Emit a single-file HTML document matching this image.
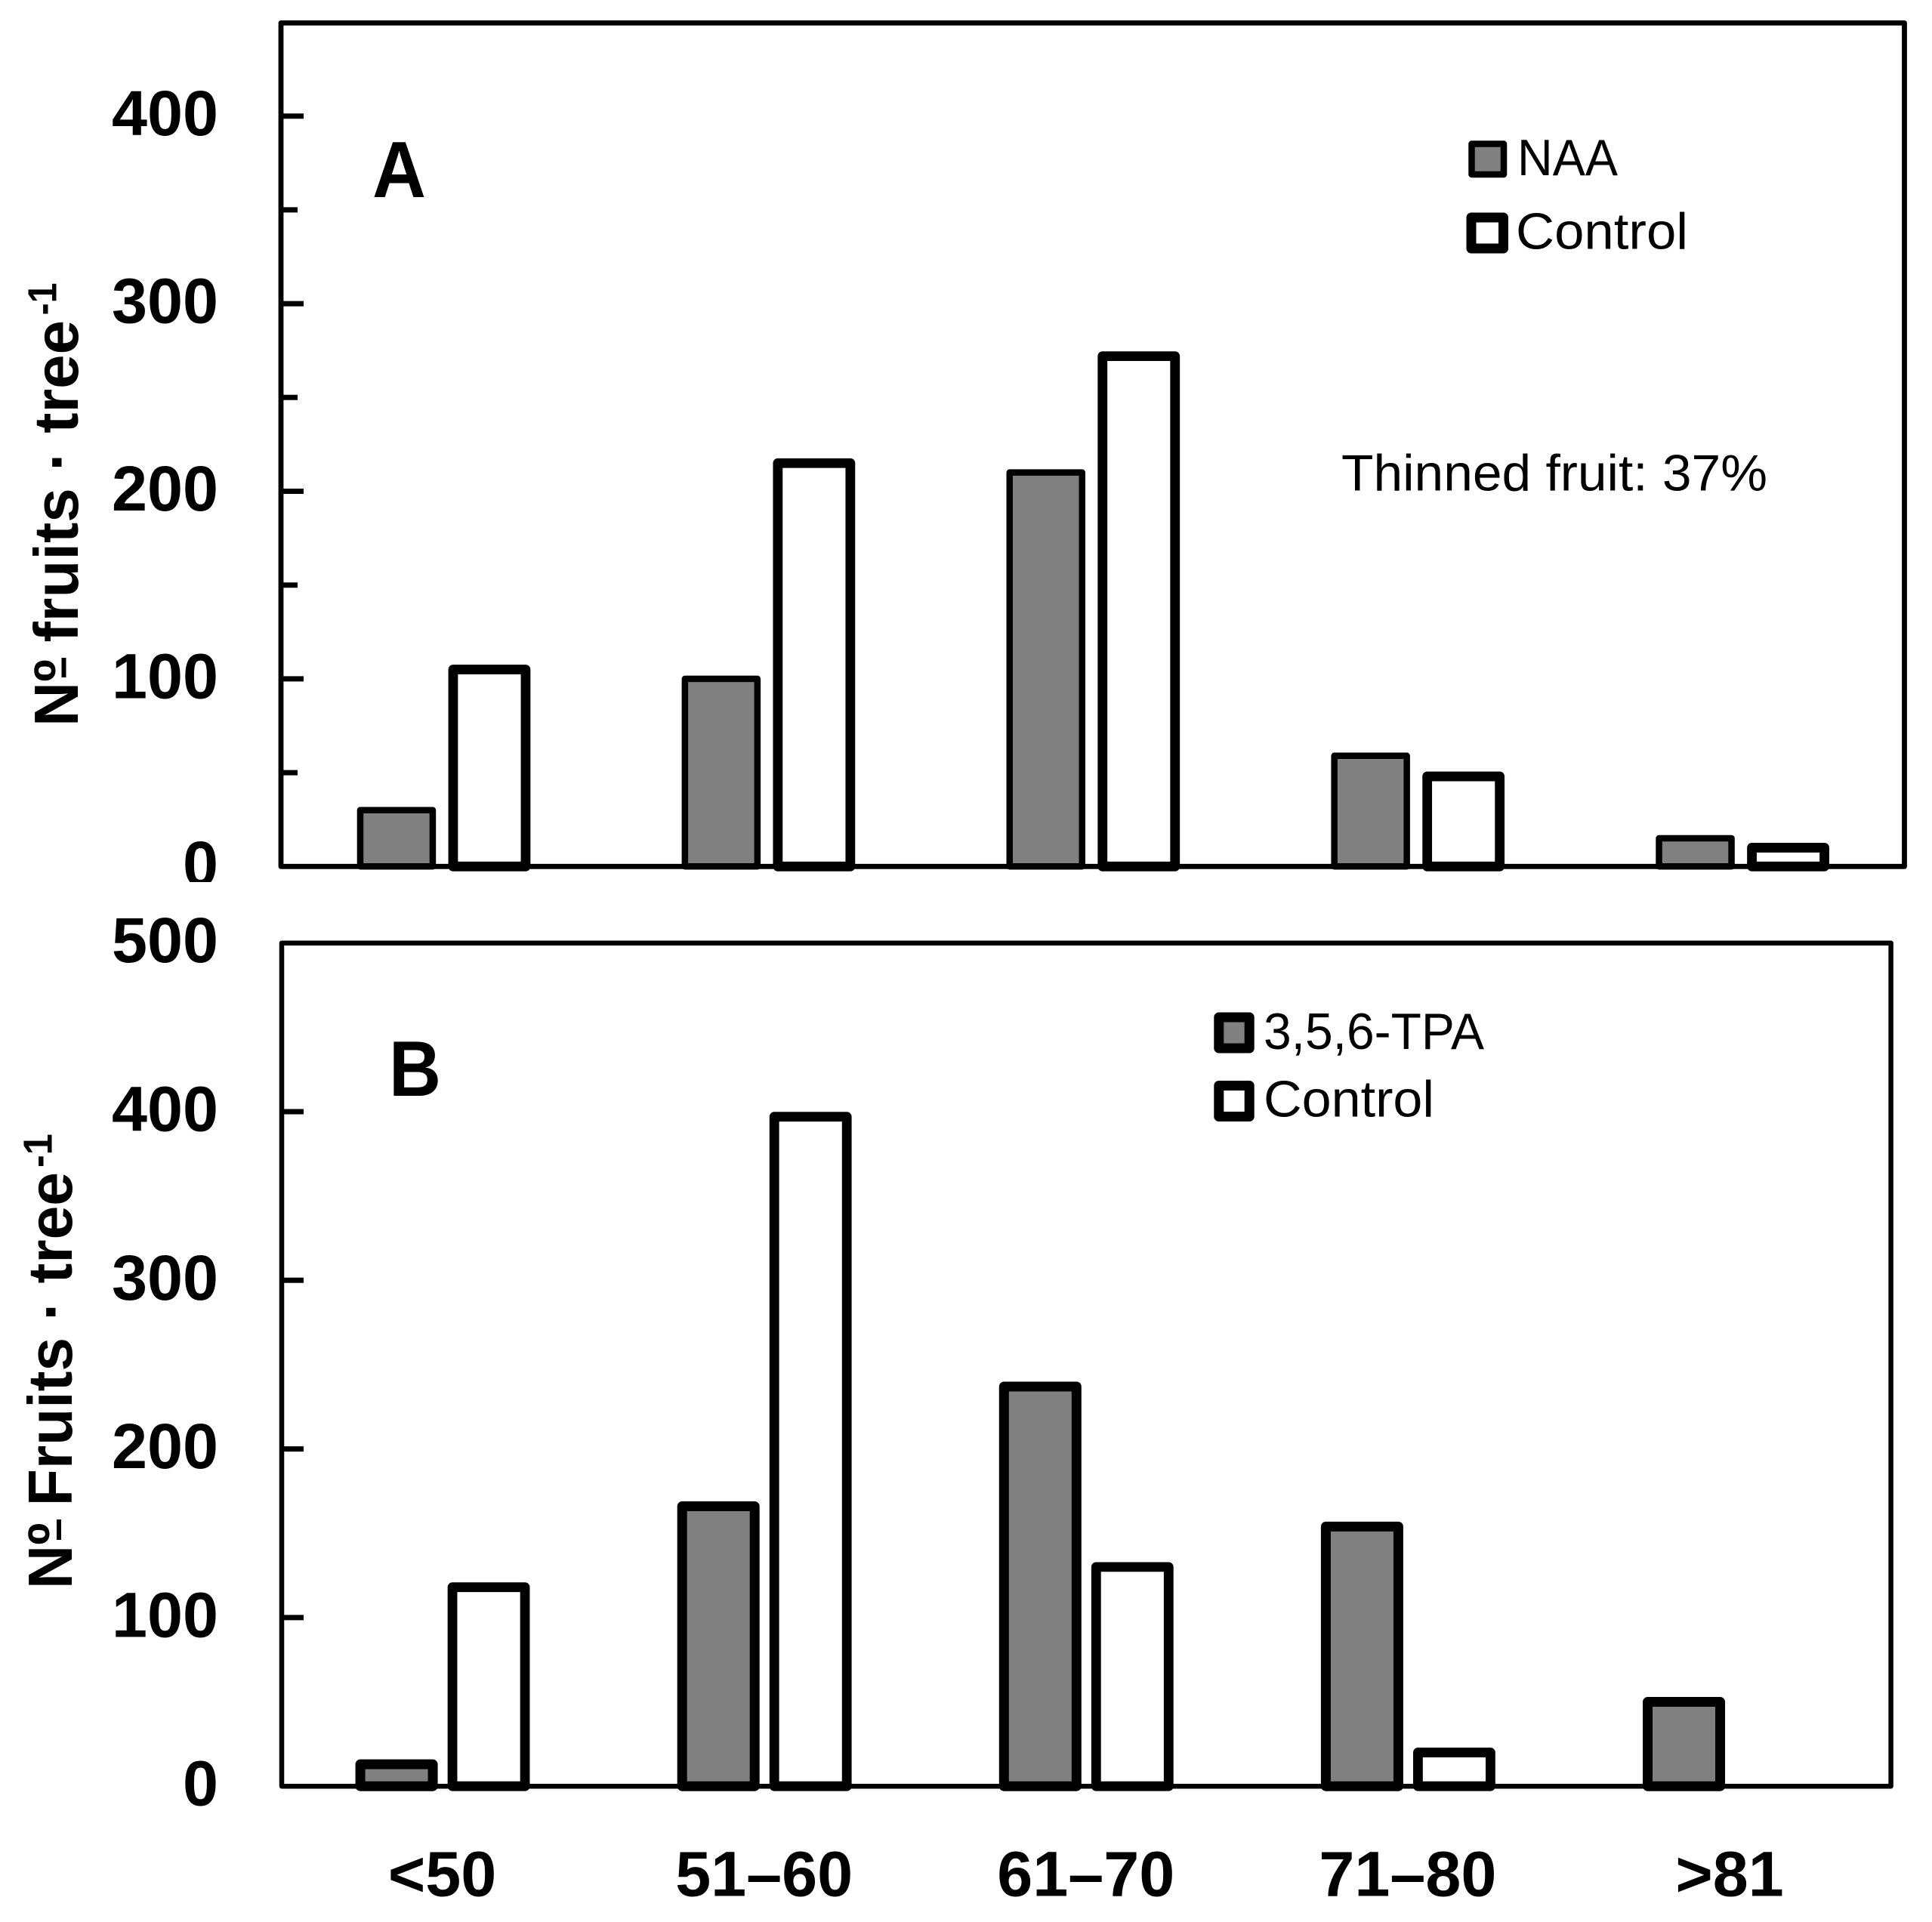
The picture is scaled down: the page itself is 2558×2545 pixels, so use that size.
<!DOCTYPE html>
<html lang="en">
<head>
<meta charset="utf-8">
<title>Fruit size distribution</title>
<style>
html,body{margin:0;padding:0;background:#fff;}
svg{display:block;}
text{font-family:"Liberation Sans",sans-serif;fill:#000;}
.b{font-weight:700;}
</style>
</head>
<body>
<svg id="chart" xmlns="http://www.w3.org/2000/svg" width="2558" height="2545" viewBox="0 0 2558 2545">
  <defs>
    <clipPath id="zero-clip"><rect x="200" y="1100" width="120" height="68"/></clipPath>
  </defs>
  <rect x="0" y="0" width="2558" height="2545" fill="#fff"/>
  <rect x="372" y="30.4" width="2149.5" height="1116.9" fill="none" stroke="#000" stroke-width="6.8" stroke-linejoin="round"/>
  <rect x="373" y="1248.7" width="2130.6" height="1116.5" fill="none" stroke="#000" stroke-width="6.5" stroke-linejoin="round"/>
  <g id="marks-a"></g>
  <g id="marks-b"></g>

  <text class="b" x="493" y="261" font-size="106" textLength="71" lengthAdjust="spacingAndGlyphs">A</text>
  <text class="b" x="515" y="1451" font-size="104" textLength="69" lengthAdjust="spacingAndGlyphs">B</text>

  <rect x="1948.5" y="190.5" width="42.5" height="40.5" fill="#808080" stroke="#000" stroke-width="8.5" stroke-linejoin="round"/>
  <text x="2009" y="232" font-size="68" textLength="133" lengthAdjust="spacingAndGlyphs">NAA</text>
  <rect x="1948" y="288" width="42.5" height="41" fill="#fff" stroke="#000" stroke-width="13" stroke-linejoin="round"/>
  <text x="2007" y="329.5" font-size="68" textLength="228" lengthAdjust="spacingAndGlyphs">Control</text>
  <text x="1776" y="649.5" font-size="68" textLength="564" lengthAdjust="spacingAndGlyphs">Thinned fruit: 37%</text>

  <rect x="1613.8" y="1347" width="40.4" height="41" fill="#808080" stroke="#000" stroke-width="13" stroke-linejoin="round"/>
  <text x="1673" y="1389" font-size="68" textLength="292" lengthAdjust="spacingAndGlyphs">3,5,6-TPA</text>
  <rect x="1613.8" y="1437.5" width="40.4" height="41" fill="#fff" stroke="#000" stroke-width="13" stroke-linejoin="round"/>
  <text x="1673" y="1478.3" font-size="68" textLength="226" lengthAdjust="spacingAndGlyphs">Control</text>

  <g>
    <text class="b" transform="translate(103 962) rotate(-90)" font-size="83" textLength="538" lengthAdjust="spacingAndGlyphs">Nº fruits · tree</text>
    <text class="b" transform="translate(74.6 417.4) rotate(-90)" font-size="54" textLength="43" lengthAdjust="spacingAndGlyphs">-1</text>
    <rect x="81.5" y="871" width="6" height="26" fill="#000"/>
  </g>
  <g>
    <text class="b" transform="translate(95 2104) rotate(-90)" font-size="83" textLength="552" lengthAdjust="spacingAndGlyphs">Nº Fruits · tree</text>
    <text class="b" transform="translate(68.3 1546) rotate(-90)" font-size="54" textLength="44.7" lengthAdjust="spacingAndGlyphs">-1</text>
    <rect x="75" y="2012" width="6" height="27" fill="#000"/>
  </g>
</svg>
<script>
const categories = ['<50', '51–60', '61–70', '71–80', '>81'];
const naaValues = [30, 100, 210, 59, 15];
const controlAValues = [105, 215, 272, 48, 10];
const tpaValues = [13, 166, 237, 154, 50];
const controlBValues = [118, 397, 130, 20, null];
const yMajorTicksA = [0, 100, 200, 300, 400];
const yMinorTicksA = [50, 150, 250, 350];
const yMajorTicksB = [0, 100, 200, 300, 400, 500];

const SVG_NS = 'http://www.w3.org/2000/svg';
const yA = function (v) { return 1147.3 - v * 2.484; };
const yB = function (v) { return 2365.2 - v * 2.233; };
const bandA = function (i) { return 372 + 429.9 * (i + 0.5); };
const bandB = function (i) { return 373 + 426.12 * (i + 0.5); };
const groupA = document.getElementById('marks-a');
const groupB = document.getElementById('marks-b');
const chartRoot = document.getElementById('chart');

function drawBar(group, band, offset, yScale, value, fill, strokeW, name) {
  if (value === null) return;
  const r = document.createElementNS(SVG_NS, 'rect');
  
  
  r.setAttribute('x', band + offset - 48);
  r.setAttribute('y', yScale(value));
  r.setAttribute('width', 96);
  r.setAttribute('height', yScale(0) - yScale(value));
  r.setAttribute('fill', fill);
  r.setAttribute('stroke', '#000');
  r.setAttribute('stroke-width', strokeW);
  r.setAttribute('stroke-linejoin', 'round');
  group.appendChild(r);
}

function drawTick(group, x0, len, y, name) {
  const l = document.createElementNS(SVG_NS, 'line');
  
  
  l.setAttribute('x1', x0);
  l.setAttribute('x2', x0 + len);
  l.setAttribute('y1', y);
  l.setAttribute('y2', y);
  l.setAttribute('stroke', '#000');
  l.setAttribute('stroke-width', 7);
  group.appendChild(l);
}

function drawLabel(group, x, y, anchor, content, name) {
  const t = document.createElementNS(SVG_NS, 'text');
  
  
  t.setAttribute('class', 'b');
  t.setAttribute('x', x);
  t.setAttribute('y', y);
  t.setAttribute('font-size', 84.5);
  t.setAttribute('text-anchor', anchor);
  t.textContent = content;
  group.appendChild(t);
  return t;
}

yMajorTicksA.forEach(function (v) {
  if (v > 0) drawTick(groupA, 372, 30, yA(v), 'y-tick-a-' + v);
  const t = drawLabel(groupA, 289, yA(v) + 25.5, 'end', String(v), 'y-tick-label-a-' + v);
  if (v === 0) t.setAttribute('clip-path', 'url(#zero-clip)');
});
yMinorTicksA.forEach(function (v) {
  drawTick(groupA, 372, 22, yA(v), 'y-minor-tick-a-' + v);
});
yMajorTicksB.forEach(function (v) {
  if (v > 0 && v < 500) drawTick(groupB, 373, 29, yB(v), 'y-tick-b-' + v);
  drawLabel(groupB, 289, yB(v) + 25.5, 'end', String(v), 'y-tick-label-b-' + v);
});

categories.forEach(function (c, i) {
  drawBar(groupA, bandA(i), -62, yA, naaValues[i], '#808080', 8.5, 'bar-naa-' + i);
  drawBar(groupA, bandA(i), 61, yA, controlAValues[i], '#fff', 12.8, 'bar-control-a-' + i);
  drawBar(groupB, bandB(i), -61, yB, tpaValues[i], '#808080', 13, 'bar-tpa-' + i);
  drawBar(groupB, bandB(i), 61, yB, controlBValues[i], '#fff', 12.8, 'bar-control-b-' + i);
  drawLabel(groupB, bandB(i) - 0.5, 2510.5, 'middle', c, 'x-tick-label-' + i);
});
</script>
</body>
</html>
